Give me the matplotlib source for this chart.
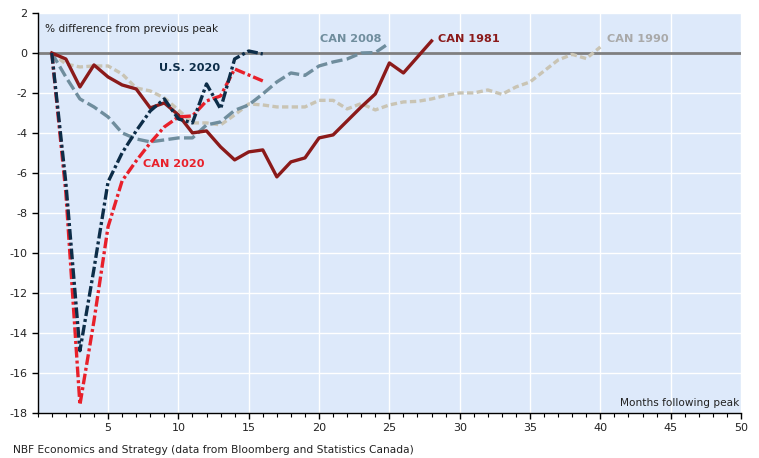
import matplotlib
matplotlib.use("Agg")
import matplotlib.pyplot as plt
from matplotlib.ticker import MultipleLocator

plt.rcParams['font.family'] = ['DejaVu Sans']
plt.rcParams['axes.unicode_minus'] = False

can1981 = [0, -0.3, -1.7, -0.6, -1.2, -1.6, -1.8, -2.75, -2.5, -3.1, -4.0, -3.9, -4.7,
           -5.35, -4.95, -4.85, -6.2, -5.45, -5.25, -4.25, -4.1, -3.4, -2.7, -2.05,
           -0.5, -1.0, -0.2, 0.6]
us2020 = [0, -6.5, -14.9, -10.8, -6.45, -5.0, -3.9, -2.9, -2.3, -3.3, -3.5, -1.55,
          -2.8, -0.3, 0.1, -0.05]
can2020 = [0, -7.0, -17.6, -13.4, -8.7, -6.4, -5.4, -4.5, -3.7, -3.2, -3.15, -2.4,
           -2.15, -0.8, -1.1, -1.4]
can2008 = [0, -1.2, -2.3, -2.7, -3.2, -4.0, -4.3, -4.45, -4.35, -4.25, -4.25, -3.6,
           -3.45, -2.87, -2.6, -2.05, -1.45, -1.0, -1.12, -0.65, -0.45, -0.3, 0.0,
           0.02, 0.5]
can1990 = [0, -0.55, -0.7, -0.65, -0.65, -1.05, -1.75, -1.9, -2.25, -2.85, -3.5, -3.5,
           -3.6, -3.1, -2.55, -2.6, -2.7, -2.7, -2.7, -2.37, -2.37, -2.8, -2.53, -2.85,
           -2.6, -2.45, -2.42, -2.3, -2.12, -2.0, -2.0, -1.85, -2.07, -1.7, -1.45,
           -0.9, -0.35, -0.07, -0.28, 0.3]

def months(s):
    return list(range(1, len(s) + 1))

fig = plt.figure(figsize=(7.59, 4.58), dpi=100)
ax = fig.add_axes([0.0497, 0.0989, 0.9266, 0.8727])
ax.set_facecolor('#dde9fa')
ax.set_xlim(0, 50)
ax.set_ylim(-18, 2)
ax.xaxis.set_major_locator(MultipleLocator(5))
ax.xaxis.set_minor_locator(MultipleLocator(1))
ax.yaxis.set_major_locator(MultipleLocator(2))
ax.grid(True, which='major', color='white', linewidth=1.0)
ax.set_axisbelow(True)
for s in ['top', 'right']:
    ax.spines[s].set_visible(False)
for s in ['left', 'bottom']:
    ax.spines[s].set_color('black')
    ax.spines[s].set_linewidth(1.0)
ax.tick_params(axis='both', which='major', direction='out', length=4, width=1,
               labelsize=8, colors='black', labelcolor='#222222')
ax.tick_params(axis='x', which='minor', direction='out', length=3, width=0.8)
ax.set_xticks([5, 10, 15, 20, 25, 30, 35, 40, 45, 50])
ax.set_yticks(list(range(-18, 3, 2)))

ax.axhline(0, color='#7f7f7f', linewidth=2.0, zorder=1.5)

lw = 2.4
ax.plot(months(can1990), can1990, color='#c9c4b4', linewidth=lw, dashes=(1.9, 1.0), zorder=2)
ax.plot(months(can2008), can2008, color='#6f8d9d', linewidth=lw, dashes=(3.4, 1.3), zorder=3)
ax.plot(months(can1981), can1981, color='#8b1a1a', linewidth=lw, zorder=4)
ax.plot(months(can2020), can2020, color='#e8202a', linewidth=lw, dashes=(3.2, 0.9, 0.9, 0.9), zorder=5)
ax.plot(months(us2020), us2020, color='#0d2d48', linewidth=lw, dashes=(3.2, 0.9, 0.9, 0.9), zorder=6)

bold = dict(fontsize=8.1, fontweight='bold', va='center', ha='left')
ax.text(8.6, -0.77, 'U.S. 2020', color='#0d2d48', **bold)
ax.text(7.5, -5.57, 'CAN 2020', color='#e8202a', **bold)
ax.text(20.05, 0.68, 'CAN 2008', color='#6f8d9d', **bold)
ax.text(28.45, 0.68, 'CAN 1981', color='#8b1a1a', **bold)
ax.text(40.45, 0.68, 'CAN 1990', color='#a9a9a9', **bold)

ax.text(0.011, 0.96, '% difference from previous peak', transform=ax.transAxes,
        fontsize=7.6, color='#222222', ha='left', va='center')
ax.text(0.997, 0.025, 'Months following peak', transform=ax.transAxes,
        fontsize=7.6, color='#222222', ha='right', va='center')
fig.text(13 / 759, 1 - 450 / 458, 'NBF Economics and Strategy (data from Bloomberg and Statistics Canada)',
         fontsize=7.7, color='#222222', ha='left', va='center')

fig.savefig('out.png', dpi=100)
